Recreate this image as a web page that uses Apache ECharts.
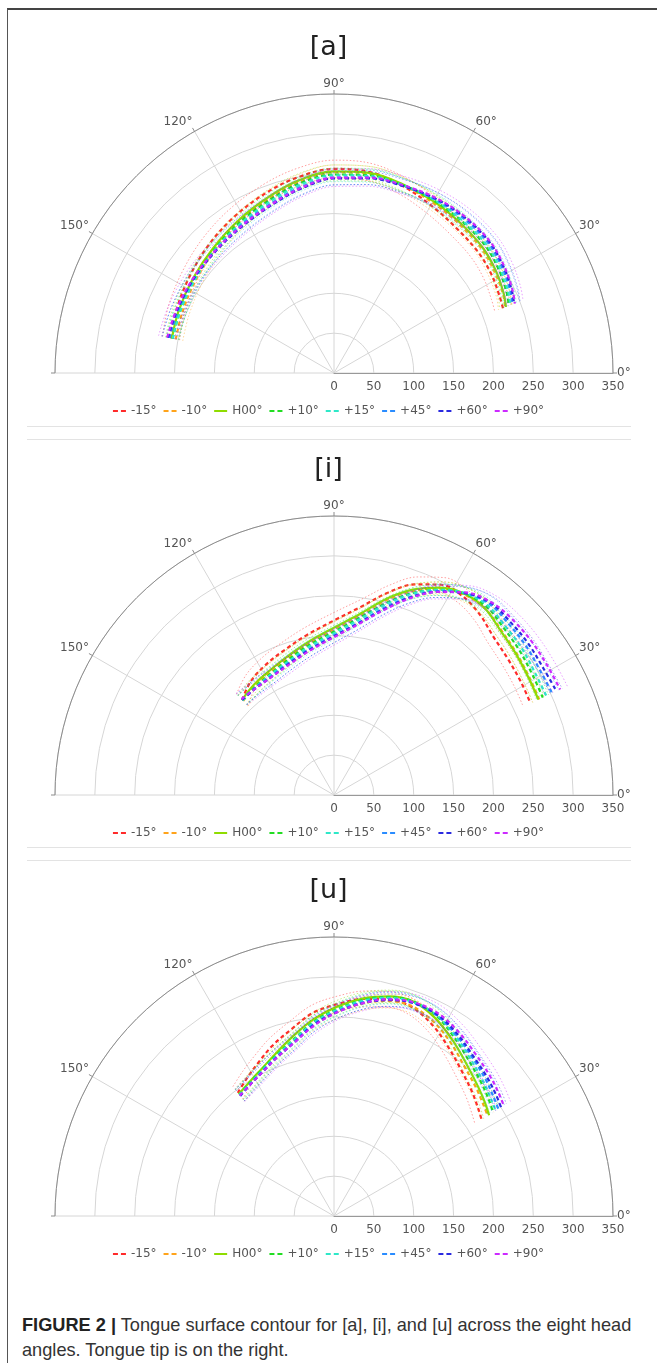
<!DOCTYPE html>
<html>
<head>
<meta charset="utf-8">
<script src="https://cdn.jsdelivr.net/npm/echarts/dist/echarts.min.js"></script>
<style>
html,body{margin:0;padding:0;background:#fff;width:657px;height:1363px;overflow:hidden;}
#frame{position:absolute;left:7px;top:8px;width:720px;height:1420px;border-left:1.5px solid #555;border-top:2px solid #444;box-sizing:border-box;}
.sep{position:absolute;left:27px;width:604px;height:1px;background:#e3e3e3;}
#chart{position:absolute;left:0;top:0;width:657px;height:1300px;}
#cap{position:absolute;left:22px;top:1313px;font-family:"Liberation Sans",Arial,sans-serif;font-size:18.2px;line-height:25px;color:#333;white-space:nowrap;}
#cap b{color:#222;}
</style>
</head>
<body>
<div id="frame"></div>
<div class="sep" style="top:426px"></div>
<div class="sep" style="top:439px"></div>
<div class="sep" style="top:847px"></div>
<div class="sep" style="top:860px"></div>
<div id="chart"></div>
<div id="cap"><b>FIGURE 2 |</b> Tongue surface contour for [a], [i], and [u] across the eight head<br>angles. Tongue tip is on the right.</div>
<script>
// ---------- data (radius in mm, angle in degrees) ----------
const seriesNames = ['-15°', '-10°', 'H00°', '+10°', '+15°', '+45°', '+60°', '+90°'];
const panelTitles = ['[a]', '[i]', '[u]'];
const radiusTicks = [0, 50, 100, 150, 200, 250, 300, 350];
const angleTicks = [0, 30, 60, 90, 120, 150, 180];

// [a]
const a_angle = [168, 158, 146, 134, 122, 110, 100, 90, 80, 70, 60, 50, 40, 32, 25, 21];
const a_m15 = [209, 213, 218, 225, 233, 242, 250, 256, 256, 250, 243, 238, 236, 233, 229, 227];
const a_m10 = [203, 205, 209, 215, 224, 234, 244, 252, 254, 251, 247, 244, 242, 238, 234, 230];
const a_h00 = [208, 210, 213, 218, 226, 236, 246, 253, 255, 252, 249, 246, 244, 240, 235, 231];
const a_p10 = [207, 208, 211, 216, 223, 232, 242, 249, 252, 251, 250, 249, 248, 244, 239, 235];
const a_p15 = [207, 208, 210, 215, 221, 230, 240, 248, 251, 251, 251, 250, 250, 246, 241, 237];
const a_p45 = [211, 211, 212, 214, 219, 227, 237, 245, 249, 250, 252, 253, 253, 249, 244, 240];
const a_p60 = [213, 212, 212, 213, 217, 225, 235, 244, 248, 250, 253, 255, 255, 251, 246, 242];
const a_p90 = [214, 213, 213, 214, 218, 226, 236, 245, 249, 251, 254, 256, 256, 252, 247, 243];
const a_band = [11, 9, 8, 8, 8, 9, 8, 11];

// [i]
const i_angle = [134, 126, 117, 109, 100, 90, 82, 75, 69, 63, 57, 51, 45, 38, 31, 25];
const i_m15 = [166, 177, 185, 192, 203, 219, 238, 263, 283, 296, 297, 291, 282, 277, 274, 272];
const i_m10 = [164, 169, 174, 181, 192, 208, 227, 253, 274, 291, 300, 301, 295, 290, 286, 284];
const i_h00 = [166, 171, 176, 183, 194, 210, 229, 255, 276, 292, 301, 301, 294, 289, 285, 283];
const i_p10 = [165, 168, 172, 179, 190, 205, 224, 249, 271, 289, 301, 304, 299, 295, 291, 289];
const i_p15 = [165, 167, 171, 177, 188, 203, 222, 247, 270, 289, 302, 306, 302, 299, 295, 294];
const i_p45 = [167, 167, 169, 175, 185, 200, 218, 243, 266, 287, 302, 309, 307, 305, 302, 302];
const i_p60 = [166, 166, 168, 174, 184, 199, 217, 241, 265, 286, 302, 311, 310, 309, 307, 308];
const i_p90 = [167, 166, 168, 173, 183, 198, 216, 240, 264, 286, 303, 312, 314, 314, 313, 313];
const i_band = [10, 9, 8, 8, 8, 9, 8, 10];

// [u]
const u_angle = [128, 122, 116, 110, 103, 96, 89, 82, 76, 70, 63, 56, 49, 42, 37, 33];
const u_m15 = [196, 205, 215, 227, 240, 256, 266, 275, 280, 280, 270, 256, 243, 233, 226, 221];
const u_m10 = [192, 197, 204, 213, 226, 244, 257, 270, 278, 281, 274, 262, 249, 240, 234, 230];
const u_h00 = [194, 199, 206, 216, 231, 248, 263, 276, 284, 287, 279, 266, 253, 243, 237, 232];
const u_p10 = [193, 198, 205, 214, 227, 245, 260, 274, 283, 287, 282, 270, 258, 249, 243, 238];
const u_p15 = [193, 197, 204, 213, 226, 244, 259, 273, 282, 286, 283, 272, 261, 252, 246, 242];
const u_p45 = [192, 196, 203, 212, 224, 242, 257, 271, 280, 285, 283, 274, 264, 256, 250, 246];
const u_p60 = [191, 196, 202, 211, 223, 241, 256, 270, 279, 285, 284, 276, 266, 259, 254, 250];
const u_p90 = [192, 196, 202, 211, 223, 240, 256, 270, 280, 286, 286, 279, 270, 263, 258, 254];
const u_band = [10, 9, 8, 8, 8, 9, 8, 10];

// ---------- styling ----------
const colors = ['#ff2a2a', '#ffa31a', '#8fdc00', '#22dd22', '#2ee8c8', '#2a8cff', '#2a2ae0', '#cc2aff'];
const FONT = 'DejaVu Sans';
const DASH_ICON = 'path://M0,0h5v2h-5zM8,0h5v2h-5z';
const SOLID_ICON = 'path://M0,0h13v2h-13z';
const panels = [
  {angle: a_angle, lines: [a_m15, a_m10, a_h00, a_p10, a_p15, a_p45, a_p60, a_p90], band: a_band, cy: 373},
  {angle: i_angle, lines: [i_m15, i_m10, i_h00, i_p10, i_p15, i_p45, i_p60, i_p90], band: i_band, cy: 795},
  {angle: u_angle, lines: [u_m15, u_m10, u_h00, u_p10, u_p15, u_p45, u_p60, u_p90], band: u_band, cy: 1216}
];

const polar = [], angleAxis = [], radiusAxis = [], series = [], title = [], legend = [];
panels.forEach((p, pi) => {
  polar.push({center: [334, p.cy], radius: 279});
  angleAxis.push({
    polarIndex: pi, type: 'value', min: angleTicks[0], max: angleTicks[angleTicks.length - 1], interval: 30,
    startAngle: 0, endAngle: 180, clockwise: false,
    axisLine: {show: true, lineStyle: {color: '#8c8c8c', width: 1}},
    axisTick: {show: true, length: 4, lineStyle: {color: '#8c8c8c'}},
    axisLabel: {show: true, margin: 4, color: '#555', fontFamily: FONT, fontSize: 12,
      formatter: v => (v === 180 ? '' : v + '°')},
    splitLine: {show: true, lineStyle: {color: '#d6d6d6', width: 1}}
  });
  radiusAxis.push({
    polarIndex: pi, type: 'value', min: radiusTicks[0], max: radiusTicks[radiusTicks.length - 1], interval: 50,
    axisLine: {show: true, lineStyle: {color: '#999', width: 1}},
    axisTick: {show: false},
    axisLabel: {show: true, margin: -8, verticalAlign: 'top', color: '#555', fontFamily: FONT, fontSize: 12},
    splitLine: {show: true, lineStyle: {color: '#d6d6d6', width: 1}}
  });
  title.push({text: panelTitles[pi], left: 'center', top: p.cy - 344,
    textStyle: {fontSize: 27, fontWeight: 'normal', color: '#222', fontFamily: FONT}});
  legend.push({top: p.cy + 27, left: 'center',
    data: seriesNames.map((n, k) => ({name: n, icon: k === 2 ? SOLID_ICON : DASH_ICON})),
    itemWidth: 15, itemHeight: 2, itemGap: 7, selectedMode: false,
    textStyle: {color: '#555', fontFamily: FONT, fontSize: 12, padding: [0, 0, 0, -1]}});
  p.lines.forEach((r, si) => {
    const pts = p.angle.map((a, k) => [r[k], a]);
    const hi = p.angle.map((a, k) => [r[k] + p.band[si], a]);
    const lo = p.angle.map((a, k) => [r[k] - p.band[si], a]);
    [hi, lo].forEach(d => series.push({
      name: seriesNames[si] + ' sd', type: 'line', coordinateSystem: 'polar', polarIndex: pi,
      data: d, symbol: 'none', smooth: 0.35, silent: true,
      lineStyle: {color: colors[si], width: 1, type: [1.5, 2], opacity: 0.45}
    }));
    series.push({
      name: seriesNames[si], type: 'line', coordinateSystem: 'polar', polarIndex: pi,
      data: pts, symbol: 'none', smooth: 0.35, itemStyle: {color: colors[si]},
      lineStyle: {color: colors[si], width: 2.2, type: si === 2 ? 'solid' : [4, 3]}
    });
  });
});

const chart = echarts.init(document.getElementById('chart'), null, {renderer: 'canvas'});
chart.setOption({
  animation: false,
  backgroundColor: 'transparent',
  title, legend, polar, angleAxis, radiusAxis, series
});
</script>
</body>
</html>
